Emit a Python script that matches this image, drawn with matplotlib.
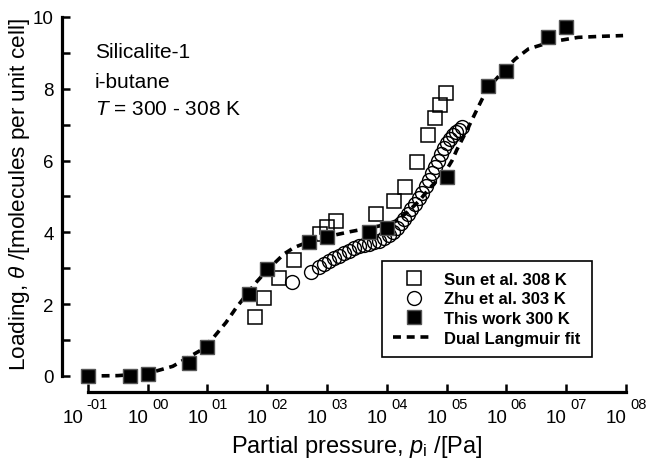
"""Loading of i-butane in silicalite-1 vs partial pressure, with dual Langmuir fit"""

import matplotlib
matplotlib.use('Agg')
import matplotlib.pyplot as plt
from matplotlib.ticker import FixedLocator, NullFormatter, NullLocator, MultipleLocator

plt.rcParams['font.family'] = ['Liberation Sans', 'DejaVu Sans']
plt.rcParams['mathtext.fontset'] = 'custom'
plt.rcParams['mathtext.rm'] = 'Liberation Sans'
plt.rcParams['mathtext.it'] = 'Liberation Sans:italic'
plt.rcParams['mathtext.bf'] = 'Liberation Sans:bold'

# Sun et al. 308 K (open squares)
sun_p = [63, 89, 155, 282, 776, 1000, 1410, 6460, 13200, 20000, 31600, 49000, 63100, 77600, 97700]
sun_q = [1.63, 2.16, 2.74, 3.24, 3.96, 4.14, 4.33, 4.51, 4.88, 5.25, 5.97, 6.71, 7.18, 7.55, 7.88]

# Zhu et al. 303 K (open circles)
zhu_p = [263, 537, 741, 891, 1072, 1318, 1585, 1905, 2344, 2818, 3388, 4169, 5012, 6026,
         7244, 8913, 10715, 12589, 14791, 16982, 19498, 22387, 25704, 29512, 33884, 38905,
         44668, 51286, 57544, 64565, 72444, 81283, 91201, 102329, 114815, 128825, 144544,
         162181, 181970]
zhu_q = [2.61, 2.90, 3.03, 3.12, 3.21, 3.28, 3.35, 3.43, 3.49, 3.56, 3.61, 3.64, 3.68, 3.72,
         3.77, 3.84, 3.92, 4.02, 4.12, 4.25, 4.38, 4.52, 4.66, 4.80, 4.95, 5.10,
         5.28, 5.46, 5.65, 5.83, 6.00, 6.18, 6.34, 6.48, 6.60, 6.70, 6.79,
         6.86, 6.92]

# this work 300 K (filled squares)
sim_p = [0.1, 0.5, 1, 5, 10, 50, 100, 500, 1000, 5000, 1e4, 1e5, 5e5, 1e6, 5e6, 1e7]
sim_q = [0.0, 0.0, 0.05, 0.36, 0.82, 2.28, 2.98, 3.74, 3.87, 4.02, 4.12, 5.55, 8.07, 8.50, 9.45, 9.72]

# dual Langmuir fit
fit_p = [0.1, 0.316, 1, 2.63, 7.41, 12.3, 20.4, 30.2, 64.6, 100, 191, 282, 537, 1000, 2455,
         5012, 1e4, 14791, 21878, 33884, 50119, 74131, 1e5, 123027, 147911, 234423, 338844,
         478630, 954993, 1.41e6, 2.34e6, 5.75e6, 1.58e7, 3.98e7, 8.91e7]
fit_q = [0.0, 0.01, 0.07, 0.27, 0.70, 1.05, 1.49, 1.90, 2.60, 2.95, 3.40, 3.58, 3.76, 3.88, 4.02,
         4.12, 4.22, 4.33, 4.56, 4.86, 5.20, 5.50, 5.75, 6.00, 6.30, 6.95, 7.50,
         8.00, 8.55, 8.83, 9.11, 9.31, 9.43, 9.46, 9.48]

xtick_vals = [1e-1, 1e0, 1e1, 1e2, 1e3, 1e4, 1e5, 1e6, 1e7, 1e8]
xtick_exps = ['-01', '00', '01', '02', '03', '04', '05', '06', '07', '08']
ytick_vals = [0, 2, 4, 6, 8, 10]

fig = plt.figure(figsize=(6.48, 4.6), dpi=100)
ax = fig.add_axes([62/648, 67/460, 578/648, 383/460])
ax.set_xscale('log')

ax.plot(sun_p, sun_q, ls='none', marker='s', ms=9.5, mfc='none', mec='k', mew=1.1,
        label='Sun et al. 308 K', zorder=2)
ax.plot(zhu_p, zhu_q, ls='none', marker='o', ms=10, mfc='none', mec='k', mew=1.0,
        label='Zhu et al. 303 K', zorder=2)
ax.plot(sim_p, sim_q, ls='none', marker='s', ms=9.5, mfc='k', mec='#555555', mew=1.0,
        label='This work 300 K', zorder=4)
ax.plot(fit_p, fit_q, color='k', lw=2.6, dashes=(2.2, 1.6),
        label='Dual Langmuir fit', zorder=3)

ax.set_xlim(0.0369, 1.71e8)
ax.set_ylim(-0.446, 10.22)

# spines: only left and bottom, bounded to the tick range
for s in ['top', 'right']:
    ax.spines[s].set_visible(False)
for s in ['left', 'bottom']:
    ax.spines[s].set_linewidth(2.3)
ax.spines['left'].set_bounds(0, 10)
ax.spines['bottom'].set_bounds(1e-1, 1e8)

ax.xaxis.set_major_locator(FixedLocator(xtick_vals))
ax.xaxis.set_major_formatter(NullFormatter())
ax.xaxis.set_minor_locator(NullLocator())
ax.yaxis.set_major_locator(FixedLocator(ytick_vals))
ax.yaxis.set_minor_locator(MultipleLocator(1))
ax.tick_params(axis='both', which='both', direction='in', width=1.8, length=5.5)
ax.tick_params(axis='y', labelsize=13.5, pad=6)

# x tick labels: "10" with a raised exponent, the pair centred on the tick
for v, e in zip(xtick_vals, xtick_exps):
    shift = -3.5 if e.startswith('-') else 0.5
    ax.annotate('10', xy=(v, 0), xycoords=('data', 'axes fraction'),
                xytext=(shift, -21.8), textcoords='offset points',
                ha='right', va='baseline', fontsize=13.5)
    ax.annotate(e, xy=(v, 0), xycoords=('data', 'axes fraction'),
                xytext=(shift + 2.6, -11.6), textcoords='offset points',
                ha='left', va='baseline', fontsize=10.5)

# axis labels
fig.text(357/648, 7/460, r'Partial pressure, $\mathit{p}_\mathrm{i}$ /[Pa]',
         fontsize=17, ha='center', va='baseline')
fig.text(20/648, 1 - 195/460, r'Loading, $\mathit{\theta}$ /[molecules per unit cell]',
         fontsize=16.2, rotation=90, ha='center', va='center')

# annotation in the upper left
ax.text(95/648, 1 - 53/460, 'Silicalite-1', transform=fig.transFigure, fontsize=15, va='center')
ax.text(95/648, 1 - 82/460, 'i-butane', transform=fig.transFigure, fontsize=15, va='center')
ax.text(95/648, 1 - 110/460, r'$\mathit{T}$ = 300 - 308 K', transform=fig.transFigure,
        fontsize=15, va='center')

leg = ax.legend(loc='upper left', bbox_to_anchor=(382/648, 1 - 262/460),
                bbox_transform=fig.transFigure, frameon=True, fancybox=False,
                edgecolor='k', framealpha=1, borderpad=0.65, labelspacing=0.28,
                handlelength=2.5, handletextpad=0.6, borderaxespad=0,
                prop={'weight': 'bold', 'size': 12})
leg.get_frame().set_linewidth(1.2)

fig.savefig('out.png', dpi=100)
